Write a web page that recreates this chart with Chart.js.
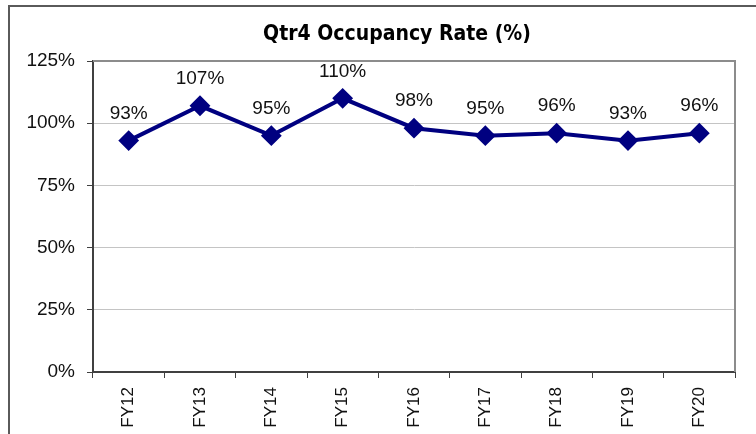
<!DOCTYPE html>
<html>
<head>
<meta charset="utf-8">
<script src="https://cdn.jsdelivr.net/npm/chart.js@4/dist/chart.umd.min.js"></script>
<style>
  html, body { margin: 0; padding: 0; background: #fff; }
  canvas { display: block; }
</style>
</head>
<body>
<canvas id="c" width="756" height="434"></canvas>
<script>
const categories = ['FY12', 'FY13', 'FY14', 'FY15', 'FY16', 'FY17', 'FY18', 'FY19', 'FY20'];
const occupancy = [93, 107, 95, 110, 98, 95, 96, 93, 96];
const yTicks = [0, 25, 50, 75, 100, 125];
const chartTitle = 'Qtr4 Occupancy Rate (%)';

const frame = {
  id: 'frame',
  beforeDraw(chart) {
    const ctx = chart.ctx;
    ctx.save();
    ctx.fillStyle = '#fff';
    ctx.fillRect(0, 0, chart.width, chart.height);
    ctx.strokeStyle = '#5a5a5a';
    ctx.lineWidth = 2;
    ctx.strokeRect(9, 6, chart.width + 20, chart.height + 20);
    // chart title, centred on the outer frame
    ctx.font = 'bold 21px "DejaVu Sans Condensed", "Liberation Sans Narrow", sans-serif';
    ctx.fillStyle = '#000';
    ctx.textAlign = 'center';
    ctx.textBaseline = 'middle';
    ctx.fillText(chartTitle, 397, 35);
    ctx.restore();
  },
  beforeDatasetsDraw(chart) {
    const a = chart.chartArea, ctx = chart.ctx;
    ctx.save();
    ctx.strokeStyle = '#8c8c8c';
    ctx.lineWidth = 2;
    ctx.beginPath();
    ctx.moveTo(a.left, a.top);
    ctx.lineTo(a.right, a.top);
    ctx.lineTo(a.right, a.bottom);
    ctx.stroke();
    ctx.restore();
  }
};

const valueLabels = {
  id: 'valueLabels',
  afterDatasetsDraw(chart) {
    const ctx = chart.ctx;
    const meta = chart.getDatasetMeta(0);
    ctx.save();
    ctx.font = '19px "Liberation Sans", Arial, sans-serif';
    ctx.fillStyle = '#111';
    ctx.textAlign = 'center';
    ctx.textBaseline = 'middle';
    meta.data.forEach((pt, i) => {
      ctx.fillText(occupancy[i] + '%', pt.x, pt.y - 27);
    });
    ctx.restore();
  }
};

new Chart(document.getElementById('c'), {
  type: 'line',
  data: {
    labels: categories,
    datasets: [{
      data: occupancy,
      borderColor: '#000080',
      backgroundColor: '#000080',
      borderWidth: 4,
      tension: 0,
      pointStyle: 'rectRot',
      pointRadius: 9,
      pointBackgroundColor: '#000080',
      pointBorderColor: '#000080',
      pointBorderWidth: 2
    }]
  },
  options: {
    responsive: false,
    devicePixelRatio: 1,
    animation: false,
    layout: { padding: { left: 0, right: 21, top: 61, bottom: 0 } },
    plugins: {
      legend: { display: false },
      tooltip: { enabled: false },
      title: { display: false }
    },
    scales: {
      x: {
        offset: true,
        grid: { display: true, drawOnChartArea: false, offset: true, tickLength: 6, tickColor: '#404040', lineWidth: 1 },
        border: { display: true, color: '#404040', width: 2 },
        ticks: { minRotation: 90, maxRotation: 90, padding: 9, color: '#111',
                 font: { family: '"Liberation Sans", Arial, sans-serif', size: 17 } },
        afterFit(scale) { scale.height = 62; }
      },
      y: {
        min: 0,
        max: 125,
        afterBuildTicks(scale) { scale.ticks = yTicks.map(v => ({ value: v })); },
        grid: { color: '#c4c4c4', lineWidth: 1, tickLength: 6, tickColor: '#404040' },
        border: { display: true, color: '#404040', width: 2 },
        ticks: { padding: 12, color: '#111', callback: v => v + '%',
                 font: { family: '"Liberation Sans", Arial, sans-serif', size: 19 } },
        afterFit(scale) { scale.width = 93; }
      }
    }
  },
  plugins: [frame, valueLabels]
});
</script>
</body>
</html>
